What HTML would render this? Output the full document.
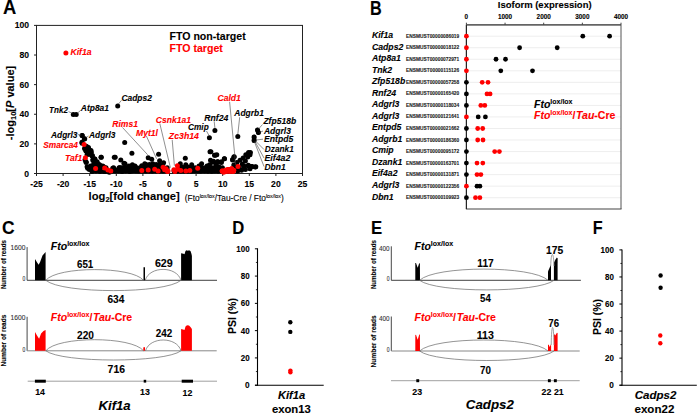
<!DOCTYPE html>
<html><head><meta charset="utf-8"><style>
html,body{margin:0;padding:0;background:#fff;width:699px;height:414px;overflow:hidden}
svg{display:block}
text{font-family:"Liberation Sans",sans-serif}
</style></head><body>
<svg width="699" height="414" viewBox="0 0 699 414">
<rect width="699" height="414" fill="#fff"/>
<text x="2.90" y="14.28" font-size="19.50" font-weight="bold" font-style="normal" fill="#000" textLength="13.30" lengthAdjust="spacingAndGlyphs" stroke="#000" stroke-width="0.1">A</text>
<rect x="36.5" y="25.4" width="266.0" height="148.1" fill="none" stroke="#222" stroke-width="1"/>
<line x1="34.00" y1="173.50" x2="36.50" y2="173.50" stroke="#222" stroke-width="1"/>
<text x="29.00" y="176.58" font-size="8.60" font-weight="bold" font-style="normal" fill="#000" text-anchor="end" stroke="#000" stroke-width="0.1">0</text>
<line x1="34.00" y1="143.88" x2="36.50" y2="143.88" stroke="#222" stroke-width="1"/>
<text x="29.00" y="146.96" font-size="8.60" font-weight="bold" font-style="normal" fill="#000" text-anchor="end" stroke="#000" stroke-width="0.1">20</text>
<line x1="34.00" y1="114.26" x2="36.50" y2="114.26" stroke="#222" stroke-width="1"/>
<text x="29.00" y="117.34" font-size="8.60" font-weight="bold" font-style="normal" fill="#000" text-anchor="end" stroke="#000" stroke-width="0.1">40</text>
<line x1="34.00" y1="84.64" x2="36.50" y2="84.64" stroke="#222" stroke-width="1"/>
<text x="29.00" y="87.72" font-size="8.60" font-weight="bold" font-style="normal" fill="#000" text-anchor="end" stroke="#000" stroke-width="0.1">60</text>
<line x1="34.00" y1="55.02" x2="36.50" y2="55.02" stroke="#222" stroke-width="1"/>
<text x="29.00" y="58.10" font-size="8.60" font-weight="bold" font-style="normal" fill="#000" text-anchor="end" stroke="#000" stroke-width="0.1">80</text>
<line x1="34.00" y1="25.40" x2="36.50" y2="25.40" stroke="#222" stroke-width="1"/>
<text x="29.00" y="28.48" font-size="8.60" font-weight="bold" font-style="normal" fill="#000" text-anchor="end" stroke="#000" stroke-width="0.1">100</text>
<line x1="36.50" y1="173.50" x2="36.50" y2="176.00" stroke="#222" stroke-width="1"/>
<text x="36.50" y="187.48" font-size="8.60" font-weight="bold" font-style="normal" fill="#000" text-anchor="middle" stroke="#000" stroke-width="0.1">-25</text>
<line x1="63.10" y1="173.50" x2="63.10" y2="176.00" stroke="#222" stroke-width="1"/>
<text x="63.10" y="187.48" font-size="8.60" font-weight="bold" font-style="normal" fill="#000" text-anchor="middle" stroke="#000" stroke-width="0.1">-20</text>
<line x1="89.70" y1="173.50" x2="89.70" y2="176.00" stroke="#222" stroke-width="1"/>
<text x="89.70" y="187.48" font-size="8.60" font-weight="bold" font-style="normal" fill="#000" text-anchor="middle" stroke="#000" stroke-width="0.1">-15</text>
<line x1="116.30" y1="173.50" x2="116.30" y2="176.00" stroke="#222" stroke-width="1"/>
<text x="116.30" y="187.48" font-size="8.60" font-weight="bold" font-style="normal" fill="#000" text-anchor="middle" stroke="#000" stroke-width="0.1">-10</text>
<line x1="142.90" y1="173.50" x2="142.90" y2="176.00" stroke="#222" stroke-width="1"/>
<text x="142.90" y="187.48" font-size="8.60" font-weight="bold" font-style="normal" fill="#000" text-anchor="middle" stroke="#000" stroke-width="0.1">-5</text>
<line x1="169.50" y1="173.50" x2="169.50" y2="176.00" stroke="#222" stroke-width="1"/>
<text x="169.50" y="187.48" font-size="8.60" font-weight="bold" font-style="normal" fill="#000" text-anchor="middle" stroke="#000" stroke-width="0.1">0</text>
<line x1="196.10" y1="173.50" x2="196.10" y2="176.00" stroke="#222" stroke-width="1"/>
<text x="196.10" y="187.48" font-size="8.60" font-weight="bold" font-style="normal" fill="#000" text-anchor="middle" stroke="#000" stroke-width="0.1">5</text>
<line x1="222.70" y1="173.50" x2="222.70" y2="176.00" stroke="#222" stroke-width="1"/>
<text x="222.70" y="187.48" font-size="8.60" font-weight="bold" font-style="normal" fill="#000" text-anchor="middle" stroke="#000" stroke-width="0.1">10</text>
<line x1="249.30" y1="173.50" x2="249.30" y2="176.00" stroke="#222" stroke-width="1"/>
<text x="249.30" y="187.48" font-size="8.60" font-weight="bold" font-style="normal" fill="#000" text-anchor="middle" stroke="#000" stroke-width="0.1">15</text>
<line x1="275.90" y1="173.50" x2="275.90" y2="176.00" stroke="#222" stroke-width="1"/>
<text x="275.90" y="187.48" font-size="8.60" font-weight="bold" font-style="normal" fill="#000" text-anchor="middle" stroke="#000" stroke-width="0.1">20</text>
<line x1="302.50" y1="173.50" x2="302.50" y2="176.00" stroke="#222" stroke-width="1"/>
<text x="302.50" y="187.48" font-size="8.60" font-weight="bold" font-style="normal" fill="#000" text-anchor="middle" stroke="#000" stroke-width="0.1">25</text>
<path d="M254.1,137 L254.1,140.5 M257.5,130 L258.4,132.5" stroke="#000" stroke-width="4.4" stroke-linecap="round"/>
<circle cx="112.00" cy="171.00" r="2.5" fill="#000"/>
<circle cx="115.40" cy="171.00" r="2.5" fill="#000"/>
<circle cx="118.80" cy="171.00" r="2.5" fill="#000"/>
<circle cx="119.60" cy="167.70" r="2.5" fill="#000"/>
<circle cx="122.20" cy="171.00" r="2.5" fill="#000"/>
<circle cx="123.00" cy="167.70" r="2.5" fill="#000"/>
<circle cx="125.60" cy="171.00" r="2.5" fill="#000"/>
<circle cx="126.40" cy="167.70" r="2.5" fill="#000"/>
<circle cx="129.00" cy="171.00" r="2.5" fill="#000"/>
<circle cx="129.80" cy="167.70" r="2.5" fill="#000"/>
<circle cx="132.40" cy="171.00" r="2.5" fill="#000"/>
<circle cx="133.20" cy="167.70" r="2.5" fill="#000"/>
<circle cx="135.80" cy="171.00" r="2.5" fill="#000"/>
<circle cx="136.60" cy="167.70" r="2.5" fill="#000"/>
<circle cx="139.20" cy="171.00" r="2.5" fill="#000"/>
<circle cx="140.00" cy="167.70" r="2.5" fill="#000"/>
<circle cx="142.60" cy="171.00" r="2.5" fill="#000"/>
<circle cx="143.40" cy="167.70" r="2.5" fill="#000"/>
<circle cx="146.00" cy="171.00" r="2.5" fill="#000"/>
<circle cx="146.80" cy="167.70" r="2.5" fill="#000"/>
<circle cx="146.00" cy="164.40" r="2.5" fill="#000"/>
<circle cx="149.40" cy="171.00" r="2.5" fill="#000"/>
<circle cx="150.20" cy="167.70" r="2.5" fill="#000"/>
<circle cx="149.40" cy="164.40" r="2.5" fill="#000"/>
<circle cx="152.80" cy="171.00" r="2.5" fill="#000"/>
<circle cx="153.60" cy="167.70" r="2.5" fill="#000"/>
<circle cx="152.80" cy="164.40" r="2.5" fill="#000"/>
<circle cx="156.20" cy="171.00" r="2.5" fill="#000"/>
<circle cx="157.00" cy="167.70" r="2.5" fill="#000"/>
<circle cx="156.20" cy="164.40" r="2.5" fill="#000"/>
<circle cx="159.60" cy="171.00" r="2.5" fill="#000"/>
<circle cx="160.40" cy="167.70" r="2.5" fill="#000"/>
<circle cx="159.60" cy="164.40" r="2.5" fill="#000"/>
<circle cx="163.00" cy="171.00" r="2.5" fill="#000"/>
<circle cx="163.80" cy="167.70" r="2.5" fill="#000"/>
<circle cx="166.40" cy="171.00" r="2.5" fill="#000"/>
<circle cx="167.20" cy="167.70" r="2.5" fill="#000"/>
<circle cx="174.00" cy="171.00" r="2.5" fill="#000"/>
<circle cx="177.40" cy="171.00" r="2.5" fill="#000"/>
<circle cx="178.20" cy="167.70" r="2.5" fill="#000"/>
<circle cx="180.80" cy="171.00" r="2.5" fill="#000"/>
<circle cx="181.60" cy="167.70" r="2.5" fill="#000"/>
<circle cx="184.20" cy="171.00" r="2.5" fill="#000"/>
<circle cx="185.00" cy="167.70" r="2.5" fill="#000"/>
<circle cx="187.60" cy="171.00" r="2.5" fill="#000"/>
<circle cx="188.40" cy="167.70" r="2.5" fill="#000"/>
<circle cx="191.00" cy="171.00" r="2.5" fill="#000"/>
<circle cx="191.80" cy="167.70" r="2.5" fill="#000"/>
<circle cx="194.40" cy="171.00" r="2.5" fill="#000"/>
<circle cx="195.20" cy="167.70" r="2.5" fill="#000"/>
<circle cx="197.80" cy="171.00" r="2.5" fill="#000"/>
<circle cx="198.60" cy="167.70" r="2.5" fill="#000"/>
<circle cx="201.20" cy="171.00" r="2.5" fill="#000"/>
<circle cx="202.00" cy="167.70" r="2.5" fill="#000"/>
<circle cx="204.60" cy="171.00" r="2.5" fill="#000"/>
<circle cx="205.40" cy="167.70" r="2.5" fill="#000"/>
<circle cx="208.00" cy="171.00" r="2.5" fill="#000"/>
<circle cx="208.80" cy="167.70" r="2.5" fill="#000"/>
<circle cx="211.40" cy="171.00" r="2.5" fill="#000"/>
<circle cx="212.20" cy="167.70" r="2.5" fill="#000"/>
<circle cx="214.80" cy="171.00" r="2.5" fill="#000"/>
<circle cx="215.60" cy="167.70" r="2.5" fill="#000"/>
<circle cx="218.20" cy="171.00" r="2.5" fill="#000"/>
<circle cx="219.00" cy="167.70" r="2.5" fill="#000"/>
<circle cx="221.60" cy="171.00" r="2.5" fill="#000"/>
<circle cx="222.40" cy="167.70" r="2.5" fill="#000"/>
<circle cx="82.10" cy="135.60" r="2.5" fill="#000"/>
<circle cx="84.30" cy="138.90" r="2.5" fill="#000"/>
<circle cx="82.10" cy="143.30" r="2.5" fill="#000"/>
<circle cx="86.60" cy="146.70" r="2.5" fill="#000"/>
<circle cx="87.70" cy="149.40" r="2.5" fill="#000"/>
<circle cx="86.00" cy="151.10" r="2.5" fill="#000"/>
<circle cx="89.30" cy="152.20" r="2.5" fill="#000"/>
<circle cx="90.40" cy="154.40" r="2.5" fill="#000"/>
<circle cx="92.10" cy="156.10" r="2.5" fill="#000"/>
<circle cx="87.10" cy="154.40" r="2.5" fill="#000"/>
<circle cx="86.00" cy="162.20" r="2.5" fill="#000"/>
<circle cx="87.10" cy="166.70" r="2.5" fill="#000"/>
<circle cx="87.70" cy="168.30" r="2.5" fill="#000"/>
<circle cx="92.70" cy="160.00" r="2.5" fill="#000"/>
<circle cx="94.90" cy="158.90" r="2.5" fill="#000"/>
<circle cx="97.10" cy="161.70" r="2.5" fill="#000"/>
<circle cx="93.80" cy="163.30" r="2.5" fill="#000"/>
<circle cx="99.30" cy="164.40" r="2.5" fill="#000"/>
<circle cx="102.70" cy="166.10" r="2.5" fill="#000"/>
<circle cx="92.70" cy="167.80" r="2.5" fill="#000"/>
<circle cx="98.20" cy="168.90" r="2.5" fill="#000"/>
<circle cx="89.30" cy="169.40" r="2.5" fill="#000"/>
<circle cx="106.00" cy="167.80" r="2.5" fill="#000"/>
<circle cx="101.00" cy="157.20" r="2.5" fill="#000"/>
<circle cx="114.30" cy="157.20" r="2.5" fill="#000"/>
<circle cx="112.70" cy="168.30" r="2.5" fill="#000"/>
<circle cx="109.30" cy="172.20" r="2.5" fill="#000"/>
<circle cx="84.50" cy="148.50" r="2.5" fill="#000"/>
<circle cx="85.50" cy="146.00" r="2.5" fill="#000"/>
<circle cx="88.50" cy="147.50" r="2.5" fill="#000"/>
<circle cx="91.00" cy="150.50" r="2.5" fill="#000"/>
<circle cx="85.00" cy="159.80" r="2.5" fill="#000"/>
<circle cx="90.50" cy="166.00" r="2.5" fill="#000"/>
<circle cx="95.50" cy="166.00" r="2.5" fill="#000"/>
<circle cx="96.00" cy="171.00" r="2.5" fill="#000"/>
<circle cx="92.00" cy="171.50" r="2.5" fill="#000"/>
<circle cx="100.00" cy="171.50" r="2.5" fill="#000"/>
<circle cx="104.00" cy="171.50" r="2.5" fill="#000"/>
<circle cx="100.50" cy="168.00" r="2.5" fill="#000"/>
<circle cx="105.50" cy="171.50" r="2.5" fill="#000"/>
<circle cx="224.50" cy="158.70" r="2.5" fill="#000"/>
<circle cx="234.20" cy="156.80" r="2.5" fill="#000"/>
<circle cx="232.60" cy="159.50" r="2.5" fill="#000"/>
<circle cx="216.80" cy="154.80" r="2.5" fill="#000"/>
<circle cx="217.50" cy="161.80" r="2.5" fill="#000"/>
<circle cx="221.40" cy="161.80" r="2.5" fill="#000"/>
<circle cx="217.50" cy="166.40" r="2.5" fill="#000"/>
<circle cx="216.80" cy="170.30" r="2.5" fill="#000"/>
<circle cx="233.80" cy="164.90" r="2.5" fill="#000"/>
<circle cx="236.90" cy="162.60" r="2.5" fill="#000"/>
<circle cx="240.00" cy="160.20" r="2.5" fill="#000"/>
<circle cx="243.10" cy="157.90" r="2.5" fill="#000"/>
<circle cx="245.80" cy="154.80" r="2.5" fill="#000"/>
<circle cx="248.50" cy="152.50" r="2.5" fill="#000"/>
<circle cx="250.40" cy="152.50" r="2.5" fill="#000"/>
<circle cx="239.20" cy="167.20" r="2.5" fill="#000"/>
<circle cx="242.30" cy="164.10" r="2.5" fill="#000"/>
<circle cx="245.40" cy="161.00" r="2.5" fill="#000"/>
<circle cx="247.70" cy="157.10" r="2.5" fill="#000"/>
<circle cx="250.00" cy="154.80" r="2.5" fill="#000"/>
<circle cx="248.50" cy="166.00" r="2.5" fill="#000"/>
<circle cx="252.30" cy="166.40" r="2.5" fill="#000"/>
<circle cx="255.80" cy="166.80" r="2.5" fill="#000"/>
<circle cx="250.00" cy="168.70" r="2.5" fill="#000"/>
<circle cx="245.40" cy="169.50" r="2.5" fill="#000"/>
<circle cx="241.50" cy="170.30" r="2.5" fill="#000"/>
<circle cx="237.70" cy="171.10" r="2.5" fill="#000"/>
<circle cx="236.00" cy="167.50" r="2.5" fill="#000"/>
<circle cx="229.00" cy="169.50" r="2.5" fill="#000"/>
<circle cx="244.00" cy="166.50" r="2.5" fill="#000"/>
<circle cx="73.30" cy="114.50" r="2.5" fill="#000"/>
<circle cx="76.20" cy="114.50" r="2.5" fill="#000"/>
<circle cx="117.70" cy="106.10" r="2.5" fill="#000"/>
<circle cx="82.20" cy="135.60" r="2.5" fill="#000"/>
<circle cx="84.70" cy="138.70" r="2.5" fill="#000"/>
<circle cx="81.90" cy="142.20" r="2.5" fill="#000"/>
<circle cx="86.90" cy="146.70" r="2.5" fill="#000"/>
<circle cx="89.10" cy="149.40" r="2.5" fill="#000"/>
<circle cx="85.80" cy="150.60" r="2.5" fill="#000"/>
<circle cx="91.30" cy="152.20" r="2.5" fill="#000"/>
<circle cx="88.00" cy="153.90" r="2.5" fill="#000"/>
<circle cx="92.40" cy="155.60" r="2.5" fill="#000"/>
<circle cx="86.30" cy="162.20" r="2.5" fill="#000"/>
<circle cx="88.00" cy="167.80" r="2.5" fill="#000"/>
<circle cx="94.70" cy="158.90" r="2.5" fill="#000"/>
<circle cx="96.90" cy="162.20" r="2.5" fill="#000"/>
<circle cx="100.20" cy="165.60" r="2.5" fill="#000"/>
<circle cx="92.40" cy="166.70" r="2.5" fill="#000"/>
<circle cx="103.60" cy="166.70" r="2.5" fill="#000"/>
<circle cx="101.30" cy="157.20" r="2.5" fill="#000"/>
<circle cx="115.20" cy="157.20" r="2.5" fill="#000"/>
<circle cx="124.70" cy="142.40" r="2.5" fill="#000"/>
<circle cx="120.80" cy="160.00" r="2.5" fill="#000"/>
<circle cx="123.90" cy="163.30" r="2.5" fill="#000"/>
<circle cx="113.60" cy="167.80" r="2.5" fill="#000"/>
<circle cx="119.10" cy="167.80" r="2.5" fill="#000"/>
<circle cx="116.90" cy="170.00" r="2.5" fill="#000"/>
<circle cx="126.90" cy="168.90" r="2.5" fill="#000"/>
<circle cx="121.70" cy="170.80" r="2.5" fill="#000"/>
<circle cx="131.90" cy="153.30" r="2.5" fill="#000"/>
<circle cx="125.00" cy="163.70" r="2.5" fill="#000"/>
<circle cx="121.00" cy="167.70" r="2.5" fill="#000"/>
<circle cx="127.90" cy="168.70" r="2.5" fill="#000"/>
<circle cx="132.40" cy="164.70" r="2.5" fill="#000"/>
<circle cx="133.90" cy="169.20" r="2.5" fill="#000"/>
<circle cx="141.80" cy="165.70" r="2.5" fill="#000"/>
<circle cx="144.80" cy="163.70" r="2.5" fill="#000"/>
<circle cx="148.20" cy="157.80" r="2.5" fill="#000"/>
<circle cx="151.70" cy="159.30" r="2.5" fill="#000"/>
<circle cx="158.60" cy="154.30" r="2.5" fill="#000"/>
<circle cx="159.60" cy="160.70" r="2.5" fill="#000"/>
<circle cx="163.60" cy="162.70" r="2.5" fill="#000"/>
<circle cx="152.70" cy="163.70" r="2.5" fill="#000"/>
<circle cx="155.60" cy="165.70" r="2.5" fill="#000"/>
<circle cx="147.70" cy="167.70" r="2.5" fill="#000"/>
<circle cx="137.80" cy="168.70" r="2.5" fill="#000"/>
<circle cx="129.90" cy="171.60" r="2.5" fill="#000"/>
<circle cx="122.00" cy="171.60" r="2.5" fill="#000"/>
<circle cx="138.00" cy="171.00" r="2.5" fill="#000"/>
<circle cx="145.00" cy="170.00" r="2.5" fill="#000"/>
<circle cx="152.00" cy="171.00" r="2.5" fill="#000"/>
<circle cx="160.00" cy="170.50" r="2.5" fill="#000"/>
<circle cx="157.00" cy="168.00" r="2.5" fill="#000"/>
<circle cx="162.00" cy="166.00" r="2.5" fill="#000"/>
<circle cx="150.00" cy="168.50" r="2.5" fill="#000"/>
<circle cx="143.00" cy="168.00" r="2.5" fill="#000"/>
<circle cx="135.00" cy="166.00" r="2.5" fill="#000"/>
<circle cx="129.00" cy="166.00" r="2.5" fill="#000"/>
<circle cx="214.90" cy="130.40" r="2.5" fill="#000"/>
<circle cx="209.40" cy="137.70" r="2.5" fill="#000"/>
<circle cx="210.00" cy="151.80" r="2.5" fill="#000"/>
<circle cx="214.50" cy="155.30" r="2.5" fill="#000"/>
<circle cx="185.30" cy="158.30" r="2.5" fill="#000"/>
<circle cx="180.30" cy="163.70" r="2.5" fill="#000"/>
<circle cx="185.80" cy="164.70" r="2.5" fill="#000"/>
<circle cx="191.70" cy="164.70" r="2.5" fill="#000"/>
<circle cx="201.60" cy="163.70" r="2.5" fill="#000"/>
<circle cx="210.50" cy="160.20" r="2.5" fill="#000"/>
<circle cx="213.50" cy="161.20" r="2.5" fill="#000"/>
<circle cx="209.60" cy="164.70" r="2.5" fill="#000"/>
<circle cx="205.60" cy="169.20" r="2.5" fill="#000"/>
<circle cx="212.50" cy="168.70" r="2.5" fill="#000"/>
<circle cx="202.60" cy="168.70" r="2.5" fill="#000"/>
<circle cx="194.70" cy="168.70" r="2.5" fill="#000"/>
<circle cx="199.00" cy="166.00" r="2.5" fill="#000"/>
<circle cx="196.00" cy="170.00" r="2.5" fill="#000"/>
<circle cx="207.00" cy="166.00" r="2.5" fill="#000"/>
<circle cx="216.00" cy="164.00" r="2.5" fill="#000"/>
<circle cx="215.00" cy="169.00" r="2.5" fill="#000"/>
<circle cx="219.00" cy="167.00" r="2.5" fill="#000"/>
<circle cx="182.00" cy="167.00" r="2.5" fill="#000"/>
<circle cx="188.00" cy="167.00" r="2.5" fill="#000"/>
<circle cx="192.00" cy="171.00" r="2.5" fill="#000"/>
<circle cx="200.00" cy="171.00" r="2.5" fill="#000"/>
<circle cx="208.00" cy="171.00" r="2.5" fill="#000"/>
<circle cx="218.00" cy="171.00" r="2.5" fill="#000"/>
<circle cx="210.90" cy="151.70" r="2.5" fill="#000"/>
<circle cx="215.20" cy="155.20" r="2.5" fill="#000"/>
<circle cx="224.30" cy="158.70" r="2.5" fill="#000"/>
<circle cx="233.90" cy="157.00" r="2.5" fill="#000"/>
<circle cx="232.60" cy="160.00" r="2.5" fill="#000"/>
<circle cx="212.60" cy="162.20" r="2.5" fill="#000"/>
<circle cx="217.80" cy="161.70" r="2.5" fill="#000"/>
<circle cx="221.30" cy="162.60" r="2.5" fill="#000"/>
<circle cx="214.30" cy="167.80" r="2.5" fill="#000"/>
<circle cx="211.70" cy="171.30" r="2.5" fill="#000"/>
<circle cx="248.30" cy="165.20" r="2.5" fill="#000"/>
<circle cx="255.20" cy="167.00" r="2.5" fill="#000"/>
<circle cx="244.00" cy="166.00" r="2.5" fill="#000"/>
<circle cx="251.00" cy="166.50" r="2.5" fill="#000"/>
<circle cx="237.80" cy="136.50" r="2.5" fill="#000"/>
<circle cx="257.50" cy="130.00" r="2.5" fill="#000"/>
<circle cx="258.40" cy="132.50" r="2.5" fill="#000"/>
<circle cx="254.10" cy="137.00" r="2.5" fill="#000"/>
<circle cx="254.10" cy="140.50" r="2.5" fill="#000"/>
<circle cx="238.00" cy="166.40" r="2.5" fill="#ff0000"/>
<circle cx="222.20" cy="171.10" r="2.5" fill="#ff0000"/>
<circle cx="225.30" cy="170.30" r="2.5" fill="#ff0000"/>
<circle cx="228.40" cy="169.50" r="2.5" fill="#ff0000"/>
<circle cx="231.50" cy="168.70" r="2.5" fill="#ff0000"/>
<circle cx="233.80" cy="170.30" r="2.5" fill="#ff0000"/>
<circle cx="223.70" cy="172.20" r="2.5" fill="#ff0000"/>
<circle cx="229.90" cy="171.50" r="2.5" fill="#ff0000"/>
<circle cx="233.00" cy="171.50" r="2.5" fill="#ff0000"/>
<circle cx="226.50" cy="171.60" r="2.5" fill="#ff0000"/>
<circle cx="65.90" cy="53.10" r="2.5" fill="#ff0000"/>
<circle cx="84.10" cy="144.40" r="2.5" fill="#ff0000"/>
<circle cx="85.40" cy="157.80" r="2.5" fill="#ff0000"/>
<circle cx="95.60" cy="168.60" r="2.5" fill="#ff0000"/>
<circle cx="104.70" cy="168.00" r="2.5" fill="#ff0000"/>
<circle cx="107.90" cy="170.00" r="2.5" fill="#ff0000"/>
<circle cx="110.80" cy="171.10" r="2.5" fill="#ff0000"/>
<circle cx="141.80" cy="170.60" r="2.5" fill="#ff0000"/>
<circle cx="148.20" cy="170.10" r="2.5" fill="#ff0000"/>
<circle cx="154.70" cy="169.20" r="2.5" fill="#ff0000"/>
<circle cx="158.10" cy="171.10" r="2.5" fill="#ff0000"/>
<circle cx="163.10" cy="167.20" r="2.5" fill="#ff0000"/>
<circle cx="164.60" cy="169.70" r="2.5" fill="#ff0000"/>
<circle cx="167.50" cy="171.60" r="2.5" fill="#ff0000"/>
<circle cx="166.00" cy="168.70" r="2.5" fill="#ff0000"/>
<circle cx="168.00" cy="171.10" r="2.5" fill="#ff0000"/>
<circle cx="173.90" cy="169.70" r="2.5" fill="#ff0000"/>
<circle cx="177.40" cy="165.70" r="2.5" fill="#ff0000"/>
<circle cx="177.90" cy="169.20" r="2.5" fill="#ff0000"/>
<circle cx="180.80" cy="170.60" r="2.5" fill="#ff0000"/>
<circle cx="185.80" cy="171.10" r="2.5" fill="#ff0000"/>
<circle cx="189.80" cy="170.60" r="2.5" fill="#ff0000"/>
<circle cx="197.70" cy="168.20" r="2.5" fill="#ff0000"/>
<circle cx="174.90" cy="171.60" r="2.5" fill="#ff0000"/>
<circle cx="222.20" cy="170.90" r="2.5" fill="#ff0000"/>
<circle cx="227.40" cy="169.60" r="2.5" fill="#ff0000"/>
<circle cx="231.70" cy="168.70" r="2.5" fill="#ff0000"/>
<circle cx="233.50" cy="170.90" r="2.5" fill="#ff0000"/>
<circle cx="225.00" cy="171.00" r="2.5" fill="#ff0000"/>
<circle cx="229.00" cy="170.50" r="2.5" fill="#ff0000"/>
<line x1="118.30" y1="104.20" x2="121.50" y2="100.30" stroke="#444" stroke-width="0.6"/>
<line x1="68.50" y1="111.60" x2="72.30" y2="113.20" stroke="#444" stroke-width="0.6"/>
<line x1="77.60" y1="113.00" x2="80.50" y2="110.50" stroke="#444" stroke-width="0.6"/>
<line x1="77.80" y1="134.60" x2="81.00" y2="135.00" stroke="#444" stroke-width="0.6"/>
<line x1="86.00" y1="137.60" x2="88.50" y2="136.00" stroke="#444" stroke-width="0.6"/>
<line x1="122.50" y1="127.50" x2="147.70" y2="154.80" stroke="#444" stroke-width="0.6"/>
<line x1="146.40" y1="136.00" x2="156.60" y2="158.80" stroke="#444" stroke-width="0.6"/>
<line x1="159.80" y1="123.50" x2="170.40" y2="167.70" stroke="#444" stroke-width="0.6"/>
<line x1="172.20" y1="139.80" x2="174.40" y2="165.70" stroke="#444" stroke-width="0.6"/>
<line x1="229.60" y1="101.80" x2="235.70" y2="165.00" stroke="#444" stroke-width="0.6"/>
<line x1="214.20" y1="121.30" x2="214.90" y2="128.00" stroke="#444" stroke-width="0.6"/>
<line x1="206.50" y1="131.00" x2="209.00" y2="135.50" stroke="#444" stroke-width="0.6"/>
<line x1="239.70" y1="117.20" x2="237.80" y2="134.30" stroke="#444" stroke-width="0.6"/>
<line x1="262.50" y1="124.50" x2="258.50" y2="129.00" stroke="#444" stroke-width="0.6"/>
<line x1="263.00" y1="131.00" x2="259.50" y2="132.50" stroke="#444" stroke-width="0.6"/>
<line x1="263.00" y1="139.20" x2="256.00" y2="140.00" stroke="#444" stroke-width="0.6"/>
<line x1="264.00" y1="149.50" x2="255.50" y2="141.00" stroke="#444" stroke-width="0.6"/>
<line x1="264.00" y1="158.00" x2="255.00" y2="141.50" stroke="#444" stroke-width="0.6"/>
<line x1="264.00" y1="166.50" x2="254.50" y2="142.00" stroke="#444" stroke-width="0.6"/>
<text x="70.40" y="55.13" font-size="9.30" font-weight="bold" font-style="italic" fill="#ff0000" textLength="21.20" lengthAdjust="spacingAndGlyphs" stroke="#ff0000" stroke-width="0.1">Kif1a</text>
<text x="49.10" y="113.33" font-size="9.30" font-weight="bold" font-style="italic" fill="#000" textLength="18.80" lengthAdjust="spacingAndGlyphs" stroke="#000" stroke-width="0.1">Tnk2</text>
<text x="80.80" y="111.33" font-size="9.30" font-weight="bold" font-style="italic" fill="#000" textLength="28.20" lengthAdjust="spacingAndGlyphs" stroke="#000" stroke-width="0.1">Atp8a1</text>
<text x="121.40" y="101.03" font-size="9.30" font-weight="bold" font-style="italic" fill="#000" textLength="30.50" lengthAdjust="spacingAndGlyphs" stroke="#000" stroke-width="0.1">Cadps2</text>
<text x="51.00" y="137.73" font-size="9.30" font-weight="bold" font-style="italic" fill="#000" textLength="26.50" lengthAdjust="spacingAndGlyphs" stroke="#000" stroke-width="0.1">Adgrl3</text>
<text x="89.00" y="138.03" font-size="9.30" font-weight="bold" font-style="italic" fill="#000" textLength="26.50" lengthAdjust="spacingAndGlyphs" stroke="#000" stroke-width="0.1">Adgrl3</text>
<text x="43.30" y="148.13" font-size="9.30" font-weight="bold" font-style="italic" fill="#ff0000" textLength="34.70" lengthAdjust="spacingAndGlyphs" stroke="#ff0000" stroke-width="0.1">Smarca4</text>
<text x="65.00" y="160.63" font-size="9.30" font-weight="bold" font-style="italic" fill="#ff0000" textLength="17.30" lengthAdjust="spacingAndGlyphs" stroke="#ff0000" stroke-width="0.1">Taf1</text>
<text x="112.30" y="126.53" font-size="9.30" font-weight="bold" font-style="italic" fill="#ff0000" textLength="25.70" lengthAdjust="spacingAndGlyphs" stroke="#ff0000" stroke-width="0.1">Rims1</text>
<text x="136.00" y="135.53" font-size="9.30" font-weight="bold" font-style="italic" fill="#ff0000" textLength="22.00" lengthAdjust="spacingAndGlyphs" stroke="#ff0000" stroke-width="0.1">Myt1l</text>
<text x="155.80" y="123.23" font-size="9.30" font-weight="bold" font-style="italic" fill="#ff0000" textLength="35.10" lengthAdjust="spacingAndGlyphs" stroke="#ff0000" stroke-width="0.1">Csnk1a1</text>
<text x="168.80" y="139.13" font-size="9.30" font-weight="bold" font-style="italic" fill="#ff0000" textLength="30.20" lengthAdjust="spacingAndGlyphs" stroke="#ff0000" stroke-width="0.1">Zc3h14</text>
<text x="217.50" y="101.43" font-size="9.30" font-weight="bold" font-style="italic" fill="#ff0000" textLength="23.40" lengthAdjust="spacingAndGlyphs" stroke="#ff0000" stroke-width="0.1">Cald1</text>
<text x="204.30" y="120.73" font-size="9.30" font-weight="bold" font-style="italic" fill="#000" textLength="24.00" lengthAdjust="spacingAndGlyphs" stroke="#000" stroke-width="0.1">Rnf24</text>
<text x="188.00" y="130.43" font-size="9.30" font-weight="bold" font-style="italic" fill="#000" textLength="20.70" lengthAdjust="spacingAndGlyphs" stroke="#000" stroke-width="0.1">Cmip</text>
<text x="234.30" y="116.33" font-size="9.30" font-weight="bold" font-style="italic" fill="#000" textLength="29.60" lengthAdjust="spacingAndGlyphs" stroke="#000" stroke-width="0.1">Adgrb1</text>
<text x="263.40" y="124.13" font-size="9.30" font-weight="bold" font-style="italic" fill="#000" textLength="32.80" lengthAdjust="spacingAndGlyphs" stroke="#000" stroke-width="0.1">Zfp518b</text>
<text x="263.90" y="133.53" font-size="9.30" font-weight="bold" font-style="italic" fill="#000" textLength="27.10" lengthAdjust="spacingAndGlyphs" stroke="#000" stroke-width="0.1">Adgrl3</text>
<text x="264.00" y="142.43" font-size="9.30" font-weight="bold" font-style="italic" fill="#000" textLength="29.30" lengthAdjust="spacingAndGlyphs" stroke="#000" stroke-width="0.1">Entpd5</text>
<text x="264.80" y="152.43" font-size="9.30" font-weight="bold" font-style="italic" fill="#000" textLength="29.00" lengthAdjust="spacingAndGlyphs" stroke="#000" stroke-width="0.1">Dzank1</text>
<text x="264.50" y="161.33" font-size="9.30" font-weight="bold" font-style="italic" fill="#000" textLength="25.90" lengthAdjust="spacingAndGlyphs" stroke="#000" stroke-width="0.1">Eif4a2</text>
<text x="264.50" y="170.13" font-size="9.30" font-weight="bold" font-style="italic" fill="#000" textLength="21.20" lengthAdjust="spacingAndGlyphs" stroke="#000" stroke-width="0.1">Dbn1</text>
<text x="169.50" y="39.76" font-size="10.50" font-weight="bold" font-style="normal" fill="#000" textLength="76.20" lengthAdjust="spacingAndGlyphs" stroke="#000" stroke-width="0.1">FTO non-target</text>
<text x="169.50" y="51.66" font-size="10.50" font-weight="bold" font-style="normal" fill="#ff0000" textLength="53.30" lengthAdjust="spacingAndGlyphs" stroke="#ff0000" stroke-width="0.1">FTO target</text>
<text transform="translate(13.6,103) rotate(-90)" text-anchor="middle" font-size="11" font-weight="bold" fill="#000" stroke="#000" stroke-width="0.1">-log<tspan font-size="7.5" dy="2.5">10</tspan><tspan dy="-2.5">[</tspan><tspan font-style="italic">P</tspan> value]</text>
<text x="88.6" y="199.5" font-size="11.2" font-weight="bold" fill="#000" stroke="#000" stroke-width="0.1">log<tspan font-size="7.5" dy="2.5">2</tspan><tspan dy="-2.5">[fold change]</tspan></text>
<text x="184.8" y="201.0" font-size="8.2" font-weight="normal" fill="#000" textLength="99" lengthAdjust="spacingAndGlyphs" stroke="#000" stroke-width="0.1">(Fto<tspan font-size="5.2" dy="-3.2">lox/lox</tspan><tspan dy="3.2">/Tau-Cre / Fto</tspan><tspan font-size="5.2" dy="-3.2">lox/lox</tspan><tspan dy="3.2">)</tspan></text>
<text x="369.90" y="14.56" font-size="20.00" font-weight="bold" font-style="normal" fill="#000" textLength="11.70" lengthAdjust="spacingAndGlyphs" stroke="#000" stroke-width="0.1">B</text>
<text x="497.80" y="8.10" font-size="9.50" font-weight="bold" font-style="normal" fill="#000" textLength="93.80" lengthAdjust="spacingAndGlyphs" stroke="#000" stroke-width="0.1">Isoform (expression)</text>
<line x1="466.40" y1="36.20" x2="621.00" y2="36.20" stroke="#e6e6e6" stroke-width="0.7"/>
<line x1="466.40" y1="47.73" x2="621.00" y2="47.73" stroke="#e6e6e6" stroke-width="0.7"/>
<line x1="466.40" y1="59.27" x2="621.00" y2="59.27" stroke="#e6e6e6" stroke-width="0.7"/>
<line x1="466.40" y1="70.81" x2="621.00" y2="70.81" stroke="#e6e6e6" stroke-width="0.7"/>
<line x1="466.40" y1="82.34" x2="621.00" y2="82.34" stroke="#e6e6e6" stroke-width="0.7"/>
<line x1="466.40" y1="93.88" x2="621.00" y2="93.88" stroke="#e6e6e6" stroke-width="0.7"/>
<line x1="466.40" y1="105.41" x2="621.00" y2="105.41" stroke="#e6e6e6" stroke-width="0.7"/>
<line x1="466.40" y1="116.95" x2="621.00" y2="116.95" stroke="#e6e6e6" stroke-width="0.7"/>
<line x1="466.40" y1="128.48" x2="621.00" y2="128.48" stroke="#e6e6e6" stroke-width="0.7"/>
<line x1="466.40" y1="140.01" x2="621.00" y2="140.01" stroke="#e6e6e6" stroke-width="0.7"/>
<line x1="466.40" y1="151.55" x2="621.00" y2="151.55" stroke="#e6e6e6" stroke-width="0.7"/>
<line x1="466.40" y1="163.09" x2="621.00" y2="163.09" stroke="#e6e6e6" stroke-width="0.7"/>
<line x1="466.40" y1="174.62" x2="621.00" y2="174.62" stroke="#e6e6e6" stroke-width="0.7"/>
<line x1="466.40" y1="186.16" x2="621.00" y2="186.16" stroke="#e6e6e6" stroke-width="0.7"/>
<line x1="466.40" y1="197.69" x2="621.00" y2="197.69" stroke="#e6e6e6" stroke-width="0.7"/>
<path d="M466.4,209.0 L466.4,24.9 L621.0,24.9 L621.0,209.0" fill="none" stroke="#555" stroke-width="1"/>
<line x1="465.90" y1="209.00" x2="621.50" y2="209.00" stroke="#444" stroke-width="1.2"/>
<line x1="466.40" y1="24.90" x2="466.40" y2="209.00" stroke="#222" stroke-width="1.1"/>
<line x1="466.40" y1="24.90" x2="621.00" y2="24.90" stroke="#444" stroke-width="1.0"/>
<line x1="466.40" y1="22.70" x2="466.40" y2="24.90" stroke="#444" stroke-width="1"/>
<text x="466.40" y="19.39" font-size="6.40" font-weight="bold" font-style="normal" fill="#000" text-anchor="middle" stroke="#000" stroke-width="0.1">0</text>
<line x1="505.05" y1="22.70" x2="505.05" y2="24.90" stroke="#444" stroke-width="1"/>
<text x="505.05" y="19.39" font-size="6.40" font-weight="bold" font-style="normal" fill="#000" text-anchor="middle" stroke="#000" stroke-width="0.1">1000</text>
<line x1="543.70" y1="22.70" x2="543.70" y2="24.90" stroke="#444" stroke-width="1"/>
<text x="543.70" y="19.39" font-size="6.40" font-weight="bold" font-style="normal" fill="#000" text-anchor="middle" stroke="#000" stroke-width="0.1">2000</text>
<line x1="582.35" y1="22.70" x2="582.35" y2="24.90" stroke="#444" stroke-width="1"/>
<text x="582.35" y="19.39" font-size="6.40" font-weight="bold" font-style="normal" fill="#000" text-anchor="middle" stroke="#000" stroke-width="0.1">3000</text>
<line x1="621.00" y1="22.70" x2="621.00" y2="24.90" stroke="#444" stroke-width="1"/>
<text x="621.00" y="19.39" font-size="6.40" font-weight="bold" font-style="normal" fill="#000" text-anchor="middle" stroke="#000" stroke-width="0.1">4000</text>
<text x="371.90" y="38.03" font-size="9.30" font-weight="bold" font-style="italic" fill="#000" textLength="21.27" lengthAdjust="spacingAndGlyphs" stroke="#000" stroke-width="0.1">Kif1a</text>
<text x="406.00" y="37.74" font-size="5.70" font-weight="bold" font-style="normal" fill="#222" textLength="53.20" lengthAdjust="spacingAndGlyphs" stroke="#222" stroke-width="0.1">ENSMUST00000086019</text>
<text x="371.90" y="49.56" font-size="9.30" font-weight="bold" font-style="italic" fill="#000" textLength="31.43" lengthAdjust="spacingAndGlyphs" stroke="#000" stroke-width="0.1">Cadps2</text>
<text x="406.00" y="49.28" font-size="5.70" font-weight="bold" font-style="normal" fill="#222" textLength="53.20" lengthAdjust="spacingAndGlyphs" stroke="#222" stroke-width="0.1">ENSMUST00000018122</text>
<text x="371.90" y="61.10" font-size="9.30" font-weight="bold" font-style="italic" fill="#000" textLength="29.01" lengthAdjust="spacingAndGlyphs" stroke="#000" stroke-width="0.1">Atp8a1</text>
<text x="406.00" y="60.81" font-size="5.70" font-weight="bold" font-style="normal" fill="#222" textLength="53.20" lengthAdjust="spacingAndGlyphs" stroke="#222" stroke-width="0.1">ENSMUST00000072971</text>
<text x="371.90" y="72.63" font-size="9.30" font-weight="bold" font-style="italic" fill="#000" textLength="20.31" lengthAdjust="spacingAndGlyphs" stroke="#000" stroke-width="0.1">Tnk2</text>
<text x="406.00" y="72.35" font-size="5.70" font-weight="bold" font-style="normal" fill="#222" textLength="53.20" lengthAdjust="spacingAndGlyphs" stroke="#222" stroke-width="0.1">ENSMUST00000115126</text>
<text x="371.90" y="84.17" font-size="9.30" font-weight="bold" font-style="italic" fill="#000" textLength="33.36" lengthAdjust="spacingAndGlyphs" stroke="#000" stroke-width="0.1">Zfp518b</text>
<text x="406.00" y="83.88" font-size="5.70" font-weight="bold" font-style="normal" fill="#222" textLength="53.20" lengthAdjust="spacingAndGlyphs" stroke="#222" stroke-width="0.1">ENSMUST00000057258</text>
<text x="371.90" y="95.70" font-size="9.30" font-weight="bold" font-style="italic" fill="#000" textLength="24.17" lengthAdjust="spacingAndGlyphs" stroke="#000" stroke-width="0.1">Rnf24</text>
<text x="406.00" y="95.42" font-size="5.70" font-weight="bold" font-style="normal" fill="#222" textLength="53.20" lengthAdjust="spacingAndGlyphs" stroke="#222" stroke-width="0.1">ENSMUST00000165420</text>
<text x="371.90" y="107.24" font-size="9.30" font-weight="bold" font-style="italic" fill="#000" textLength="27.55" lengthAdjust="spacingAndGlyphs" stroke="#000" stroke-width="0.1">Adgrl3</text>
<text x="406.00" y="106.95" font-size="5.70" font-weight="bold" font-style="normal" fill="#222" textLength="53.20" lengthAdjust="spacingAndGlyphs" stroke="#222" stroke-width="0.1">ENSMUST00000118034</text>
<text x="371.90" y="118.77" font-size="9.30" font-weight="bold" font-style="italic" fill="#000" textLength="27.55" lengthAdjust="spacingAndGlyphs" stroke="#000" stroke-width="0.1">Adgrl3</text>
<text x="406.00" y="118.49" font-size="5.70" font-weight="bold" font-style="normal" fill="#222" textLength="53.20" lengthAdjust="spacingAndGlyphs" stroke="#222" stroke-width="0.1">ENSMUST00000121641</text>
<text x="371.90" y="130.31" font-size="9.30" font-weight="bold" font-style="italic" fill="#000" textLength="29.48" lengthAdjust="spacingAndGlyphs" stroke="#000" stroke-width="0.1">Entpd5</text>
<text x="406.00" y="130.02" font-size="5.70" font-weight="bold" font-style="normal" fill="#222" textLength="53.20" lengthAdjust="spacingAndGlyphs" stroke="#222" stroke-width="0.1">ENSMUST00000021662</text>
<text x="371.90" y="141.84" font-size="9.30" font-weight="bold" font-style="italic" fill="#000" textLength="30.45" lengthAdjust="spacingAndGlyphs" stroke="#000" stroke-width="0.1">Adgrb1</text>
<text x="406.00" y="141.56" font-size="5.70" font-weight="bold" font-style="normal" fill="#222" textLength="53.20" lengthAdjust="spacingAndGlyphs" stroke="#222" stroke-width="0.1">ENSMUST00000186360</text>
<text x="371.90" y="153.38" font-size="9.30" font-weight="bold" font-style="italic" fill="#000" textLength="21.75" lengthAdjust="spacingAndGlyphs" stroke="#000" stroke-width="0.1">Cmip</text>
<text x="406.00" y="153.09" font-size="5.70" font-weight="bold" font-style="normal" fill="#222" textLength="53.20" lengthAdjust="spacingAndGlyphs" stroke="#222" stroke-width="0.1">ENSMUST00000095172</text>
<text x="371.90" y="164.91" font-size="9.30" font-weight="bold" font-style="italic" fill="#000" textLength="30.46" lengthAdjust="spacingAndGlyphs" stroke="#000" stroke-width="0.1">Dzank1</text>
<text x="406.00" y="164.63" font-size="5.70" font-weight="bold" font-style="normal" fill="#222" textLength="53.20" lengthAdjust="spacingAndGlyphs" stroke="#222" stroke-width="0.1">ENSMUST00000163701</text>
<text x="371.90" y="176.45" font-size="9.30" font-weight="bold" font-style="italic" fill="#000" textLength="25.63" lengthAdjust="spacingAndGlyphs" stroke="#000" stroke-width="0.1">Eif4a2</text>
<text x="406.00" y="176.16" font-size="5.70" font-weight="bold" font-style="normal" fill="#222" textLength="53.20" lengthAdjust="spacingAndGlyphs" stroke="#222" stroke-width="0.1">ENSMUST00000131871</text>
<text x="371.90" y="187.98" font-size="9.30" font-weight="bold" font-style="italic" fill="#000" textLength="27.55" lengthAdjust="spacingAndGlyphs" stroke="#000" stroke-width="0.1">Adgrl3</text>
<text x="406.00" y="187.70" font-size="5.70" font-weight="bold" font-style="normal" fill="#222" textLength="53.20" lengthAdjust="spacingAndGlyphs" stroke="#222" stroke-width="0.1">ENSMUST00000122356</text>
<text x="371.90" y="199.52" font-size="9.30" font-weight="bold" font-style="italic" fill="#000" textLength="21.75" lengthAdjust="spacingAndGlyphs" stroke="#000" stroke-width="0.1">Dbn1</text>
<text x="406.00" y="199.23" font-size="5.70" font-weight="bold" font-style="normal" fill="#222" textLength="53.20" lengthAdjust="spacingAndGlyphs" stroke="#222" stroke-width="0.1">ENSMUST00000109923</text>
<circle cx="466.40" cy="36.20" r="2.4" fill="#ff0000"/>
<circle cx="582.80" cy="36.20" r="2.4" fill="#000"/>
<circle cx="609.60" cy="36.20" r="2.4" fill="#000"/>
<circle cx="466.40" cy="47.73" r="2.4" fill="#ff0000"/>
<circle cx="519.60" cy="47.73" r="2.4" fill="#000"/>
<circle cx="557.20" cy="47.73" r="2.4" fill="#000"/>
<circle cx="466.40" cy="59.27" r="2.4" fill="#ff0000"/>
<circle cx="496.00" cy="59.27" r="2.4" fill="#000"/>
<circle cx="505.50" cy="59.27" r="2.4" fill="#000"/>
<circle cx="466.40" cy="70.81" r="2.4" fill="#ff0000"/>
<circle cx="500.80" cy="70.81" r="2.4" fill="#000"/>
<circle cx="532.50" cy="70.81" r="2.4" fill="#000"/>
<circle cx="466.40" cy="82.34" r="2.4" fill="#000"/>
<circle cx="482.20" cy="82.34" r="2.4" fill="#ff0000"/>
<circle cx="488.00" cy="82.34" r="2.4" fill="#ff0000"/>
<circle cx="466.40" cy="93.88" r="2.4" fill="#000"/>
<circle cx="487.00" cy="93.88" r="2.4" fill="#ff0000"/>
<circle cx="490.10" cy="93.88" r="2.4" fill="#ff0000"/>
<circle cx="466.40" cy="105.41" r="2.4" fill="#000"/>
<circle cx="480.80" cy="105.41" r="2.4" fill="#ff0000"/>
<circle cx="484.80" cy="105.41" r="2.4" fill="#ff0000"/>
<circle cx="466.40" cy="116.95" r="2.4" fill="#ff0000"/>
<circle cx="478.20" cy="116.95" r="2.4" fill="#000"/>
<circle cx="485.40" cy="116.95" r="2.4" fill="#000"/>
<circle cx="466.40" cy="128.48" r="2.4" fill="#000"/>
<circle cx="477.70" cy="128.48" r="2.4" fill="#ff0000"/>
<circle cx="482.70" cy="128.48" r="2.4" fill="#ff0000"/>
<circle cx="466.40" cy="140.01" r="2.4" fill="#000"/>
<circle cx="477.70" cy="140.01" r="2.4" fill="#ff0000"/>
<circle cx="483.00" cy="140.01" r="2.4" fill="#ff0000"/>
<circle cx="466.40" cy="151.55" r="2.4" fill="#000"/>
<circle cx="494.70" cy="151.55" r="2.4" fill="#ff0000"/>
<circle cx="499.40" cy="151.55" r="2.4" fill="#ff0000"/>
<circle cx="466.40" cy="163.09" r="2.4" fill="#000"/>
<circle cx="477.00" cy="163.09" r="2.4" fill="#ff0000"/>
<circle cx="482.80" cy="163.09" r="2.4" fill="#ff0000"/>
<circle cx="466.40" cy="174.62" r="2.4" fill="#000"/>
<circle cx="477.00" cy="174.62" r="2.4" fill="#ff0000"/>
<circle cx="480.90" cy="174.62" r="2.4" fill="#ff0000"/>
<circle cx="466.40" cy="186.16" r="2.4" fill="#ff0000"/>
<circle cx="477.00" cy="186.16" r="2.4" fill="#000"/>
<circle cx="479.90" cy="186.16" r="2.4" fill="#000"/>
<circle cx="466.40" cy="197.69" r="2.4" fill="#000"/>
<circle cx="475.50" cy="197.69" r="2.4" fill="#ff0000"/>
<circle cx="479.90" cy="197.69" r="2.4" fill="#ff0000"/>
<text x="534" y="107.5" font-size="10.5" font-weight="bold" font-style="italic" fill="#000" stroke="#000" stroke-width="0.1">Fto<tspan font-size="7.0" font-style="normal" dy="-4">lox/lox</tspan></text>
<text x="534" y="119.3" font-size="10.5" font-weight="bold" font-style="italic" fill="red" stroke="red" stroke-width="0.1">Fto<tspan font-size="7.0" font-style="normal" dy="-4">lox/lox</tspan><tspan dy="4" font-style="normal">/</tspan><tspan dx="0.6">Tau</tspan><tspan font-style="normal">-Cre</tspan></text>
<text x="2.00" y="233.74" font-size="18.00" font-weight="bold" font-style="normal" fill="#000" textLength="12.60" lengthAdjust="spacingAndGlyphs" stroke="#000" stroke-width="0.1">C</text>
<text transform="translate(5.60,264.60) rotate(-90)" x="-24.50" y="0" font-size="6.8" font-weight="bold" fill="#000" textLength="49" lengthAdjust="spacingAndGlyphs" stroke="#000" stroke-width="0.1">Number of reads</text>
<text transform="translate(5.60,340.60) rotate(-90)" x="-26.00" y="0" font-size="6.8" font-weight="bold" fill="#000" textLength="52" lengthAdjust="spacingAndGlyphs" stroke="#000" stroke-width="0.1">Number of reads</text>
<line x1="27.10" y1="247.10" x2="27.10" y2="280.30" stroke="#333" stroke-width="0.9"/>
<text x="10.50" y="250.26" font-size="6.60" font-weight="normal" font-style="normal" fill="#333" textLength="14.90" lengthAdjust="spacingAndGlyphs" stroke="#333" stroke-width="0.1">1600</text>
<text x="22.60" y="281.06" font-size="6.60" font-weight="normal" font-style="normal" fill="#333" textLength="2.80" lengthAdjust="spacingAndGlyphs" stroke="#333" stroke-width="0.1">0</text>
<line x1="27.10" y1="316.80" x2="27.10" y2="350.80" stroke="#333" stroke-width="0.9"/>
<text x="10.50" y="319.96" font-size="6.60" font-weight="normal" font-style="normal" fill="#333" textLength="14.90" lengthAdjust="spacingAndGlyphs" stroke="#333" stroke-width="0.1">1600</text>
<text x="22.60" y="351.56" font-size="6.60" font-weight="normal" font-style="normal" fill="#333" textLength="2.80" lengthAdjust="spacingAndGlyphs" stroke="#333" stroke-width="0.1">0</text>
<line x1="27.10" y1="280.30" x2="217.00" y2="280.30" stroke="#111" stroke-width="0.8"/>
<line x1="27.10" y1="350.80" x2="216.70" y2="350.80" stroke="#888" stroke-width="1.0"/>
<text x="50.8" y="249.7" font-size="10.5" font-weight="bold" font-style="italic" fill="#000" stroke="#000" stroke-width="0.1">Fto<tspan font-size="7.04" font-style="normal" dy="-4">lox/lox</tspan></text>
<text x="50.8" y="321.0" font-size="10.5" font-weight="bold" font-style="italic" fill="red" stroke="red" stroke-width="0.1">Fto<tspan font-size="7.04" font-style="normal" dy="-4">lox/lox</tspan><tspan dy="4" font-style="normal">/</tspan><tspan dx="0.6">Tau</tspan><tspan font-style="normal">-Cre</tspan></text>
<path d="M35.00,280.30 L35.00,259.00 L36.80,262.00 L38.60,264.80 L40.10,261.90 L42.50,255.60 L44.50,253.20 L45.60,252.00 L45.60,280.30 Z" fill="#000"/>
<path d="M143.50,280.30 L143.50,267.20 L145.00,267.20 L145.00,280.30 Z" fill="#000"/>
<path d="M181.10,280.30 L181.10,253.20 L183.50,253.80 L184.50,254.30 L185.50,251.00 L186.50,250.30 L188.00,250.80 L189.00,250.20 L190.50,251.00 L191.50,254.00 L191.90,256.00 L191.90,280.30 Z" fill="#000"/>
<path d="M45.80,280.30 C57.52,266.03 131.78,266.03 143.50,280.30" fill="none" stroke="#666" stroke-width="0.7"/>
<path d="M145.20,280.30 C149.50,265.77 176.70,265.77 181.00,280.30" fill="none" stroke="#666" stroke-width="0.7"/>
<path d="M45.80,280.30 C62.02,294.03 164.78,294.03 181.00,280.30" fill="none" stroke="#666" stroke-width="0.7"/>
<text x="77.00" y="268.42" font-size="10.40" font-weight="bold" font-style="normal" fill="#000" textLength="16.30" lengthAdjust="spacingAndGlyphs" stroke="#000" stroke-width="0.1">651</text>
<text x="154.90" y="266.52" font-size="10.40" font-weight="bold" font-style="normal" fill="#000" textLength="17.90" lengthAdjust="spacingAndGlyphs" stroke="#000" stroke-width="0.1">629</text>
<text x="107.40" y="302.72" font-size="10.40" font-weight="bold" font-style="normal" fill="#000" textLength="16.90" lengthAdjust="spacingAndGlyphs" stroke="#000" stroke-width="0.1">634</text>
<path d="M35.00,350.80 L35.00,332.00 L37.00,335.50 L39.10,338.80 L41.10,333.50 L43.50,331.10 L45.60,330.00 L45.60,350.80 Z" fill="#ff0000"/>
<path d="M143.30,350.80 L143.30,347.50 L144.20,346.90 L145.00,347.50 L145.00,350.80 Z" fill="#ff0000"/>
<path d="M181.10,350.80 L181.10,329.10 L183.00,329.50 L184.50,330.10 L185.50,326.50 L187.00,325.30 L189.00,325.50 L190.50,327.00 L191.90,329.00 L191.90,350.80 Z" fill="#ff0000"/>
<path d="M45.80,350.80 C57.52,336.00 131.78,336.00 143.50,350.80" fill="none" stroke="#666" stroke-width="0.7"/>
<path d="M145.50,350.80 C149.76,336.40 176.74,336.40 181.00,350.80" fill="none" stroke="#666" stroke-width="0.7"/>
<path d="M45.80,350.80 C62.02,363.07 164.78,363.07 181.00,350.80" fill="none" stroke="#666" stroke-width="0.7"/>
<text x="77.00" y="339.22" font-size="10.40" font-weight="bold" font-style="normal" fill="#000" textLength="16.90" lengthAdjust="spacingAndGlyphs" stroke="#000" stroke-width="0.1">220</text>
<text x="155.80" y="336.82" font-size="10.40" font-weight="bold" font-style="normal" fill="#000" textLength="16.50" lengthAdjust="spacingAndGlyphs" stroke="#000" stroke-width="0.1">242</text>
<text x="107.60" y="373.32" font-size="10.40" font-weight="bold" font-style="normal" fill="#000" textLength="17.40" lengthAdjust="spacingAndGlyphs" stroke="#000" stroke-width="0.1">716</text>
<line x1="27.70" y1="381.20" x2="217.00" y2="381.20" stroke="#888" stroke-width="0.8"/>
<rect x="34.9" y="379.7" width="10.9" height="3" fill="#000"/>
<rect x="143.7" y="379.8" width="2.5" height="2.8" fill="#000"/>
<rect x="181.7" y="379.7" width="11.3" height="3" fill="#000"/>
<text x="40.10" y="395.15" font-size="8.80" font-weight="bold" font-style="normal" fill="#000" text-anchor="middle" stroke="#000" stroke-width="0.1">14</text>
<text x="144.90" y="395.15" font-size="8.80" font-weight="bold" font-style="normal" fill="#000" text-anchor="middle" stroke="#000" stroke-width="0.1">13</text>
<text x="187.40" y="395.65" font-size="8.80" font-weight="bold" font-style="normal" fill="#000" text-anchor="middle" stroke="#000" stroke-width="0.1">12</text>
<text x="98.50" y="410.35" font-size="13.00" font-weight="bold" font-style="italic" fill="#000" textLength="32.20" lengthAdjust="spacingAndGlyphs" stroke="#000" stroke-width="0.1">Kif1a</text>
<text x="232.30" y="233.84" font-size="18.00" font-weight="bold" font-style="normal" fill="#000" textLength="12.00" lengthAdjust="spacingAndGlyphs" stroke="#000" stroke-width="0.1">D</text>
<line x1="257.50" y1="248.30" x2="257.50" y2="385.70" stroke="#000" stroke-width="1.1"/>
<line x1="255.00" y1="385.20" x2="323.70" y2="385.20" stroke="#000" stroke-width="1.1"/>
<line x1="254.90" y1="385.20" x2="257.50" y2="385.20" stroke="#000" stroke-width="1"/>
<text x="245.10" y="388.21" font-size="8.40" font-weight="bold" font-style="normal" fill="#000" textLength="4.60" lengthAdjust="spacingAndGlyphs" stroke="#000" stroke-width="0.1">0</text>
<line x1="255.90" y1="371.56" x2="257.50" y2="371.56" stroke="#000" stroke-width="0.8"/>
<line x1="254.90" y1="357.92" x2="257.50" y2="357.92" stroke="#000" stroke-width="1"/>
<text x="240.80" y="360.93" font-size="8.40" font-weight="bold" font-style="normal" fill="#000" textLength="8.90" lengthAdjust="spacingAndGlyphs" stroke="#000" stroke-width="0.1">20</text>
<line x1="255.90" y1="344.28" x2="257.50" y2="344.28" stroke="#000" stroke-width="0.8"/>
<line x1="254.90" y1="330.64" x2="257.50" y2="330.64" stroke="#000" stroke-width="1"/>
<text x="240.80" y="333.65" font-size="8.40" font-weight="bold" font-style="normal" fill="#000" textLength="8.90" lengthAdjust="spacingAndGlyphs" stroke="#000" stroke-width="0.1">40</text>
<line x1="255.90" y1="317.00" x2="257.50" y2="317.00" stroke="#000" stroke-width="0.8"/>
<line x1="254.90" y1="303.36" x2="257.50" y2="303.36" stroke="#000" stroke-width="1"/>
<text x="240.80" y="306.37" font-size="8.40" font-weight="bold" font-style="normal" fill="#000" textLength="8.90" lengthAdjust="spacingAndGlyphs" stroke="#000" stroke-width="0.1">60</text>
<line x1="255.90" y1="289.72" x2="257.50" y2="289.72" stroke="#000" stroke-width="0.8"/>
<line x1="254.90" y1="276.08" x2="257.50" y2="276.08" stroke="#000" stroke-width="1"/>
<text x="240.80" y="279.09" font-size="8.40" font-weight="bold" font-style="normal" fill="#000" textLength="8.90" lengthAdjust="spacingAndGlyphs" stroke="#000" stroke-width="0.1">80</text>
<line x1="255.90" y1="262.44" x2="257.50" y2="262.44" stroke="#000" stroke-width="0.8"/>
<line x1="254.90" y1="248.80" x2="257.50" y2="248.80" stroke="#000" stroke-width="1"/>
<text x="236.35" y="251.81" font-size="8.40" font-weight="bold" font-style="normal" fill="#000" textLength="13.35" lengthAdjust="spacingAndGlyphs" stroke="#000" stroke-width="0.1">100</text>
<text transform="translate(236.30,315.90) rotate(-90)" x="-18.00" y="0" font-size="10.2" font-weight="bold" fill="#000" textLength="36" lengthAdjust="spacingAndGlyphs" stroke="#000" stroke-width="0.1">PSI (%)</text>
<circle cx="290.30" cy="322.30" r="2.2" fill="#000"/>
<circle cx="290.30" cy="331.90" r="2.2" fill="#000"/>
<circle cx="290.40" cy="370.60" r="2.2" fill="#ff0000"/>
<circle cx="290.40" cy="372.20" r="2.2" fill="#ff0000"/>
<text x="277.90" y="399.36" font-size="10.50" font-weight="bold" font-style="italic" fill="#000" textLength="27.20" lengthAdjust="spacingAndGlyphs" stroke="#000" stroke-width="0.1">Kif1a</text>
<text x="271.90" y="413.06" font-size="10.50" font-weight="bold" font-style="normal" fill="#000" textLength="38.90" lengthAdjust="spacingAndGlyphs" stroke="#000" stroke-width="0.1">exon13</text>
<text x="371.00" y="233.74" font-size="18.00" font-weight="bold" font-style="normal" fill="#000" textLength="11.20" lengthAdjust="spacingAndGlyphs" stroke="#000" stroke-width="0.1">E</text>
<text transform="translate(375.80,264.60) rotate(-90)" x="-24.50" y="0" font-size="6.8" font-weight="bold" fill="#000" textLength="49" lengthAdjust="spacingAndGlyphs" stroke="#000" stroke-width="0.1">Number of reads</text>
<text transform="translate(375.80,341.40) rotate(-90)" x="-26.00" y="0" font-size="6.8" font-weight="bold" fill="#000" textLength="52" lengthAdjust="spacingAndGlyphs" stroke="#000" stroke-width="0.1">Number of reads</text>
<line x1="391.30" y1="246.30" x2="391.30" y2="280.30" stroke="#333" stroke-width="0.9"/>
<text x="379.00" y="251.16" font-size="6.60" font-weight="normal" font-style="normal" fill="#333" textLength="10.60" lengthAdjust="spacingAndGlyphs" stroke="#333" stroke-width="0.1">400</text>
<text x="386.80" y="281.06" font-size="6.60" font-weight="normal" font-style="normal" fill="#333" textLength="2.80" lengthAdjust="spacingAndGlyphs" stroke="#333" stroke-width="0.1">0</text>
<line x1="391.30" y1="316.50" x2="391.30" y2="351.00" stroke="#333" stroke-width="0.9"/>
<text x="379.00" y="321.36" font-size="6.60" font-weight="normal" font-style="normal" fill="#333" textLength="10.60" lengthAdjust="spacingAndGlyphs" stroke="#333" stroke-width="0.1">400</text>
<text x="386.80" y="351.76" font-size="6.60" font-weight="normal" font-style="normal" fill="#333" textLength="2.80" lengthAdjust="spacingAndGlyphs" stroke="#333" stroke-width="0.1">0</text>
<line x1="391.30" y1="280.30" x2="580.90" y2="280.30" stroke="#111" stroke-width="0.8"/>
<line x1="391.30" y1="351.00" x2="579.70" y2="351.00" stroke="#888" stroke-width="1.0"/>
<text x="414.5" y="249.7" font-size="10.5" font-weight="bold" font-style="italic" fill="#000" stroke="#000" stroke-width="0.1">Fto<tspan font-size="7.04" font-style="normal" dy="-4">lox/lox</tspan></text>
<text x="414.5" y="321.0" font-size="10.5" font-weight="bold" font-style="italic" fill="red" stroke="red" stroke-width="0.1">Fto<tspan font-size="7.04" font-style="normal" dy="-4">lox/lox</tspan><tspan dy="4" font-style="normal">/</tspan><tspan dx="0.6">Tau</tspan><tspan font-style="normal">-Cre</tspan></text>
<path d="M415.30,280.30 L415.30,263.10 L416.00,263.00 L417.70,267.70 L419.20,263.30 L419.90,263.50 L420.00,280.30 Z" fill="#000"/>
<path d="M548.00,280.30 L548.00,271.50 L549.50,268.00 L551.00,264.80 L551.00,280.30 Z" fill="#000"/>
<path d="M553.90,280.30 L553.90,262.70 L555.50,259.50 L556.90,257.60 L557.60,258.50 L557.60,280.30 Z" fill="#000"/>
<path d="M419.60,280.30 C435.01,265.37 532.59,265.37 548.00,280.30" fill="none" stroke="#666" stroke-width="0.7"/>
<path d="M419.60,280.30 C435.73,293.10 537.87,293.10 554.00,280.30" fill="none" stroke="#666" stroke-width="0.7"/>
<path d="M550.70,266.00 C551.10,250.67 553.60,250.67 554.00,266.00" fill="none" stroke="#888" stroke-width="0.8"/>
<text x="477.30" y="266.52" font-size="10.40" font-weight="bold" font-style="normal" fill="#000" textLength="16.40" lengthAdjust="spacingAndGlyphs" stroke="#000" stroke-width="0.1">117</text>
<text x="480.10" y="302.12" font-size="10.40" font-weight="bold" font-style="normal" fill="#000" textLength="10.70" lengthAdjust="spacingAndGlyphs" stroke="#000" stroke-width="0.1">54</text>
<text x="546.00" y="253.62" font-size="10.40" font-weight="bold" font-style="normal" fill="#000" textLength="17.20" lengthAdjust="spacingAndGlyphs" stroke="#000" stroke-width="0.1">175</text>
<path d="M415.30,351.00 L415.30,335.00 L416.00,334.80 L417.70,339.80 L419.30,334.50 L419.90,334.60 L420.00,351.00 Z" fill="#ff0000"/>
<path d="M548.00,351.00 L548.00,344.90 L548.60,344.60 L549.70,347.00 L550.80,344.50 L551.10,344.60 L551.10,351.00 Z" fill="#ff0000"/>
<path d="M553.90,351.00 L553.90,334.40 L554.50,334.20 L555.20,335.60 L556.90,332.70 L557.60,333.00 L557.60,351.00 Z" fill="#ff0000"/>
<path d="M419.60,351.00 C435.01,336.33 532.59,336.33 548.00,351.00" fill="none" stroke="#666" stroke-width="0.7"/>
<path d="M419.60,351.00 C435.73,363.67 537.87,363.67 554.00,351.00" fill="none" stroke="#666" stroke-width="0.7"/>
<path d="M551.20,345.00 C551.54,321.53 553.66,321.53 554.00,345.00" fill="none" stroke="#888" stroke-width="0.8"/>
<text x="476.70" y="338.62" font-size="10.40" font-weight="bold" font-style="normal" fill="#000" textLength="17.10" lengthAdjust="spacingAndGlyphs" stroke="#000" stroke-width="0.1">113</text>
<text x="480.10" y="373.72" font-size="10.40" font-weight="bold" font-style="normal" fill="#000" textLength="10.90" lengthAdjust="spacingAndGlyphs" stroke="#000" stroke-width="0.1">70</text>
<text x="548.30" y="326.52" font-size="10.40" font-weight="bold" font-style="normal" fill="#000" textLength="10.80" lengthAdjust="spacingAndGlyphs" stroke="#000" stroke-width="0.1">76</text>
<line x1="391.00" y1="380.70" x2="579.70" y2="380.70" stroke="#888" stroke-width="0.8"/>
<rect x="416.3" y="379.2" width="2.9" height="3" fill="#000"/>
<rect x="547.9" y="379.2" width="2.9" height="3" fill="#000"/>
<rect x="553.9" y="379.2" width="2.9" height="3" fill="#000"/>
<text x="417.20" y="394.65" font-size="8.80" font-weight="bold" font-style="normal" fill="#000" text-anchor="middle" stroke="#000" stroke-width="0.1">23</text>
<text x="546.50" y="394.65" font-size="8.80" font-weight="bold" font-style="normal" fill="#000" text-anchor="middle" stroke="#000" stroke-width="0.1">22</text>
<text x="558.80" y="394.65" font-size="8.80" font-weight="bold" font-style="normal" fill="#000" text-anchor="middle" stroke="#000" stroke-width="0.1">21</text>
<text x="465.80" y="409.05" font-size="13.00" font-weight="bold" font-style="italic" fill="#000" textLength="48.10" lengthAdjust="spacingAndGlyphs" stroke="#000" stroke-width="0.1">Cadps2</text>
<text x="592.70" y="233.84" font-size="18.00" font-weight="bold" font-style="normal" fill="#000" textLength="9.90" lengthAdjust="spacingAndGlyphs" stroke="#000" stroke-width="0.1">F</text>
<line x1="622.00" y1="249.40" x2="622.00" y2="385.70" stroke="#000" stroke-width="1.1"/>
<line x1="619.50" y1="385.20" x2="696.80" y2="385.20" stroke="#000" stroke-width="1.1"/>
<line x1="619.40" y1="385.20" x2="622.00" y2="385.20" stroke="#000" stroke-width="1"/>
<text x="609.30" y="388.21" font-size="8.40" font-weight="bold" font-style="normal" fill="#000" textLength="4.60" lengthAdjust="spacingAndGlyphs" stroke="#000" stroke-width="0.1">0</text>
<line x1="620.40" y1="371.67" x2="622.00" y2="371.67" stroke="#000" stroke-width="0.8"/>
<line x1="619.40" y1="358.14" x2="622.00" y2="358.14" stroke="#000" stroke-width="1"/>
<text x="605.00" y="361.15" font-size="8.40" font-weight="bold" font-style="normal" fill="#000" textLength="8.90" lengthAdjust="spacingAndGlyphs" stroke="#000" stroke-width="0.1">20</text>
<line x1="620.40" y1="344.61" x2="622.00" y2="344.61" stroke="#000" stroke-width="0.8"/>
<line x1="619.40" y1="331.08" x2="622.00" y2="331.08" stroke="#000" stroke-width="1"/>
<text x="605.00" y="334.09" font-size="8.40" font-weight="bold" font-style="normal" fill="#000" textLength="8.90" lengthAdjust="spacingAndGlyphs" stroke="#000" stroke-width="0.1">40</text>
<line x1="620.40" y1="317.55" x2="622.00" y2="317.55" stroke="#000" stroke-width="0.8"/>
<line x1="619.40" y1="304.02" x2="622.00" y2="304.02" stroke="#000" stroke-width="1"/>
<text x="605.00" y="307.03" font-size="8.40" font-weight="bold" font-style="normal" fill="#000" textLength="8.90" lengthAdjust="spacingAndGlyphs" stroke="#000" stroke-width="0.1">60</text>
<line x1="620.40" y1="290.49" x2="622.00" y2="290.49" stroke="#000" stroke-width="0.8"/>
<line x1="619.40" y1="276.96" x2="622.00" y2="276.96" stroke="#000" stroke-width="1"/>
<text x="605.00" y="279.97" font-size="8.40" font-weight="bold" font-style="normal" fill="#000" textLength="8.90" lengthAdjust="spacingAndGlyphs" stroke="#000" stroke-width="0.1">80</text>
<line x1="620.40" y1="263.43" x2="622.00" y2="263.43" stroke="#000" stroke-width="0.8"/>
<line x1="619.40" y1="249.90" x2="622.00" y2="249.90" stroke="#000" stroke-width="1"/>
<text x="600.55" y="252.91" font-size="8.40" font-weight="bold" font-style="normal" fill="#000" textLength="13.35" lengthAdjust="spacingAndGlyphs" stroke="#000" stroke-width="0.1">100</text>
<text transform="translate(601.30,316.90) rotate(-90)" x="-18.00" y="0" font-size="10.2" font-weight="bold" fill="#000" textLength="36" lengthAdjust="spacingAndGlyphs" stroke="#000" stroke-width="0.1">PSI (%)</text>
<circle cx="660.60" cy="275.50" r="2.2" fill="#000"/>
<circle cx="660.60" cy="287.80" r="2.2" fill="#000"/>
<circle cx="660.30" cy="335.50" r="2.2" fill="#ff0000"/>
<circle cx="660.30" cy="343.30" r="2.2" fill="#ff0000"/>
<text x="634.80" y="399.16" font-size="10.50" font-weight="bold" font-style="italic" fill="#000" textLength="41.60" lengthAdjust="spacingAndGlyphs" stroke="#000" stroke-width="0.1">Cadps2</text>
<text x="634.50" y="413.06" font-size="10.50" font-weight="bold" font-style="normal" fill="#000" textLength="39.80" lengthAdjust="spacingAndGlyphs" stroke="#000" stroke-width="0.1">exon22</text>
</svg>
</body></html>
